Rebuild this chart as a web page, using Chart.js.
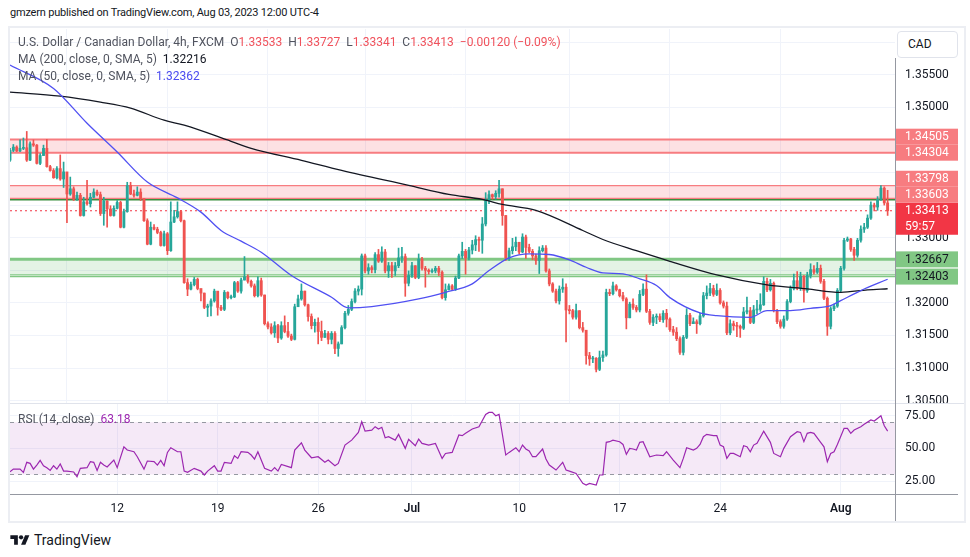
<!DOCTYPE html>
<html>
<head>
<meta charset="utf-8">
<script src="https://cdn.jsdelivr.net/npm/chart.js@4.4.0/dist/chart.umd.min.js"></script>
<style>
  body { margin: 0; background: #fff; font-family: Roboto, "Noto Sans", sans-serif; }
  #wrap { position: relative; width: 970px; height: 557px; overflow: hidden; background: #fff; }
  #head { position: absolute; left: 10px; top: 5px; font-size: 11px; letter-spacing: -0.2px; line-height: 15px; color: #131722; }
  #frame { position: absolute; left: 8px; top: 26px; width: 958px; height: 497px; box-sizing: border-box; border: 2px solid #eceef3; pointer-events: none; }
  canvas { position: absolute; left: 0; }
  #cMain { top: 28px; }
  #cRsi { top: 403px; }
  .leg { position: absolute; left: 18px; font-size: 12px; line-height: 17px; color: #50535e; white-space: pre; }
  .red { color: #f0525c; }
  .blk { color: #131722; }
  .blu { color: #4a4af0; }
  .pur { color: #9c27b0; }
  #cad { position: absolute; left: 897px; top: 31px; width: 61px; height: 27px; box-sizing: border-box; border: 1px solid #e0e3eb; border-radius: 4px; background: #fff; font-size: 12px; line-height: 25px; padding-left: 10px; color: #131722; }
  .ln { position: absolute; }
  #logo { position: absolute; left: 10px; top: 533px; }
  #tv { position: absolute; left: 34px; top: 531px; font-size: 14px; line-height: 18px; color: #131722; }
</style>
</head>
<body>
<div id="wrap">
  <div id="head">gmzern published on TradingView.com, Aug 03, 2023 12:00 UTC-4</div>
  <canvas id="cMain" width="970" height="375"></canvas>
  <canvas id="cRsi" width="970" height="118"></canvas>
  <div class="ln" style="left:10px;top:403px;width:955px;height:1px;background:#e0e3eb"></div>
  <div class="ln" style="left:10px;top:494px;width:948px;height:1px;background:#9598a1"></div>
  <div class="ln" style="left:895px;top:58px;width:1px;height:463px;background:#9598a1"></div>
  <div id="frame"></div>
  <div class="leg" style="top:34px">U.S. Dollar / Canadian Dollar, 4h, FXCM  O<span class="red">1.33533</span>  H<span class="red">1.33727</span>  L<span class="red">1.33341</span>  C<span class="red">1.33413</span>  <span class="red">−0.00120 (−0.09%)</span></div>
  <div class="leg" style="top:51px">MA (200, close, 0, SMA, 5)  <span class="blk">1.32216</span></div>
  <div class="leg" style="top:68px">MA (50, close, 0, SMA, 5)  <span class="blu">1.32362</span></div>
  <div class="leg" style="top:411px">RSI (14, close)  <span class="pur">63.18</span></div>
  <div id="cad">CAD</div>
  <svg id="logo" width="20" height="15" viewBox="0 0 36 28"><path d="M14 22H7V11H0V4h14v18z" fill="#131722"/><circle cx="20" cy="8" r="4" fill="#131722"/><path d="M28 22h-8l7.5-18h8L28 22z" fill="#131722"/></svg>
  <div id="tv">TradingView</div>
</div>
<script>
// time axis: bar index, 6 bars per day, 30 per week
const tickIdx = [32, 62, 92, 120, 152, 182, 212, 248];
const tickLbl = ['12', '19', '26', 'Jul', '10', '17', '24', 'Aug'];

const firstOpen = 1.3419;
const closes = [
  1.3434,1.3439,1.3433,1.3437,1.3438,1.3419,1.3444,1.3442,1.3414,1.3426,
  1.3437,1.3409,1.3403,1.3392,1.3406,1.3390,1.3401,1.3367,1.3375,1.3359,
  1.3365,1.3334,1.3355,1.3352,1.3362,1.3370,1.3366,1.3337,1.3356,1.3344,
  1.3334,1.3345,1.3354,1.3316,1.3340,1.3380,1.3367,1.3365,1.3370,1.3360,
  1.3326,1.3290,1.3316,1.3313,1.3308,1.3288,1.3306,1.3280,1.3324,1.3332,
  1.3340,1.3326,1.3231,1.3221,1.3228,1.3236,1.3222,1.3215,1.3193,1.3195,
  1.3203,1.3218,1.3193,1.3190,1.3216,1.3208,1.3209,1.3231,1.3218,1.3235,
  1.3240,1.3233,1.3226,1.3211,1.3234,1.3212,1.3168,1.3163,1.3154,1.3165,
  1.3146,1.3165,1.3156,1.3149,1.3144,1.3194,1.3206,1.3218,1.3197,1.3179,
  1.3165,1.3170,1.3156,1.3147,1.3153,1.3144,1.3153,1.3130,1.3137,1.3162,
  1.3184,1.3190,1.3202,1.3218,1.3221,1.3272,1.3249,1.3254,1.3251,1.3274,
  1.3264,1.3278,1.3249,1.3257,1.3249,1.3257,1.3269,1.3271,1.3230,1.3242,
  1.3257,1.3239,1.3267,1.3253,1.3250,1.3248,1.3249,1.3253,1.3247,1.3208,
  1.3220,1.3226,1.3221,1.3238,1.3272,1.3279,1.3269,1.3281,1.3289,1.3297,
  1.3296,1.3321,1.3358,1.3366,1.3363,1.3368,1.3375,1.3334,1.3269,1.3280,
  1.3286,1.3293,1.3278,1.3301,1.3285,1.3279,1.3272,1.3265,1.3280,1.3284,
  1.3249,1.3229,1.3218,1.3203,1.3221,1.3224,1.3189,1.3188,1.3178,1.3188,
  1.3162,1.3158,1.3119,1.3114,1.3115,1.3098,1.3116,1.3120,1.3216,1.3214,
  1.3226,1.3220,1.3211,1.3206,1.3177,1.3198,1.3193,1.3189,1.3213,1.3221,
  1.3187,1.3170,1.3178,1.3179,1.3174,1.3184,1.3175,1.3159,1.3155,1.3145,
  1.3124,1.3147,1.3181,1.3168,1.3171,1.3168,1.3180,1.3211,1.3215,1.3222,
  1.3213,1.3219,1.3200,1.3195,1.3154,1.3168,1.3165,1.3164,1.3161,1.3186,
  1.3188,1.3170,1.3189,1.3190,1.3197,1.3233,1.3220,1.3230,1.3188,1.3171,
  1.3164,1.3175,1.3202,1.3222,1.3234,1.3222,1.3241,1.3219,1.3242,1.3251,
  1.3247,1.3253,1.3233,1.3207,1.3164,1.3191,1.3195,1.3219,1.3253,1.3296,
  1.3298,1.3282,1.3273,1.3296,1.3313,1.3316,1.3330,1.3350,1.3347,1.3359,
  1.3376,1.33533,1.33413
];
const highs = [
  1.3437,1.3443,1.3441,1.3450,1.3453,1.3463,1.3447,1.3450,1.3443,1.3429,
  1.3442,1.3451,1.3411,1.3406,1.3409,1.3427,1.3416,1.3396,1.3393,1.3378,
  1.3370,1.3368,1.3362,1.3388,1.3368,1.3375,1.3373,1.3370,1.3362,1.3357,
  1.3349,1.3349,1.3357,1.3356,1.3344,1.3385,1.3385,1.3373,1.3378,1.3375,
  1.3354,1.3329,1.3324,1.3320,1.3316,1.3310,1.3310,1.3308,1.3355,1.3342,
  1.3355,1.3342,1.3327,1.3237,1.3232,1.3239,1.3238,1.3221,1.3215,1.3198,
  1.3206,1.3221,1.3214,1.3196,1.3219,1.3217,1.3212,1.3233,1.3233,1.3238,
  1.3271,1.3243,1.3235,1.3229,1.3240,1.3238,1.3212,1.3171,1.3168,1.3171,
  1.3167,1.3171,1.3180,1.3170,1.3152,1.3198,1.3212,1.3229,1.3218,1.3198,
  1.3183,1.3175,1.3177,1.3172,1.3158,1.3156,1.3156,1.3156,1.3140,1.3165,
  1.3187,1.3196,1.3206,1.3222,1.3226,1.3275,1.3275,1.3260,1.3257,1.3277,
  1.3282,1.3286,1.3282,1.3262,1.3262,1.3262,1.3284,1.3285,1.3275,1.3249,
  1.3262,1.3257,1.3275,1.3270,1.3256,1.3252,1.3252,1.3256,1.3256,1.3249,
  1.3229,1.3229,1.3228,1.3241,1.3275,1.3293,1.3282,1.3285,1.3296,1.3303,
  1.3301,1.3331,1.3369,1.3372,1.3367,1.3372,1.3388,1.3375,1.3334,1.3284,
  1.3299,1.3301,1.3293,1.3306,1.3304,1.3290,1.3282,1.3275,1.3286,1.3288,
  1.3288,1.3252,1.3231,1.3221,1.3226,1.3237,1.3229,1.3196,1.3190,1.3198,
  1.3188,1.3170,1.3158,1.3124,1.3118,1.3116,1.3126,1.3126,1.3221,1.3221,
  1.3232,1.3228,1.3221,1.3216,1.3208,1.3201,1.3206,1.3196,1.3219,1.3229,
  1.3243,1.3190,1.3182,1.3183,1.3183,1.3188,1.3190,1.3177,1.3164,1.3162,
  1.3148,1.3150,1.3191,1.3184,1.3177,1.3174,1.3184,1.3216,1.3226,1.3230,
  1.3227,1.3229,1.3222,1.3203,1.3201,1.3174,1.3172,1.3170,1.3166,1.3193,
  1.3209,1.3193,1.3196,1.3204,1.3214,1.3240,1.3238,1.3236,1.3232,1.3190,
  1.3174,1.3180,1.3205,1.3226,1.3244,1.3248,1.3247,1.3242,1.3247,1.3260,
  1.3257,1.3262,1.3258,1.3236,1.3209,1.3194,1.3198,1.3222,1.3256,1.3299,
  1.3301,1.3299,1.3285,1.3299,1.3318,1.3322,1.3335,1.3355,1.3353,1.3363,
  1.3380,1.3378,1.33727
];
const lows = [
  1.3417,1.3432,1.3432,1.3432,1.3435,1.3417,1.3418,1.3440,1.3413,1.3412,
  1.3426,1.3408,1.3402,1.3391,1.3390,1.3388,1.3377,1.3323,1.3365,1.3357,
  1.3357,1.3333,1.3333,1.3350,1.3347,1.3361,1.3364,1.3334,1.3319,1.3316,
  1.3333,1.3333,1.3344,1.3315,1.3315,1.3339,1.3366,1.3362,1.3364,1.3357,
  1.3325,1.3289,1.3289,1.3312,1.3306,1.3287,1.3287,1.3274,1.3279,1.3323,
  1.3330,1.3324,1.3230,1.3211,1.3220,1.3226,1.3220,1.3203,1.3191,1.3179,
  1.3180,1.3201,1.3181,1.3188,1.3188,1.3206,1.3206,1.3208,1.3216,1.3215,
  1.3235,1.3230,1.3224,1.3209,1.3209,1.3210,1.3166,1.3160,1.3152,1.3147,
  1.3139,1.3144,1.3154,1.3147,1.3142,1.3143,1.3195,1.3204,1.3195,1.3172,
  1.3160,1.3155,1.3137,1.3142,1.3147,1.3137,1.3137,1.3122,1.3118,1.3137,
  1.3160,1.3181,1.3188,1.3200,1.3212,1.3212,1.3246,1.3244,1.3246,1.3246,
  1.3262,1.3262,1.3246,1.3239,1.3239,1.3242,1.3254,1.3262,1.3210,1.3226,
  1.3239,1.3237,1.3237,1.3250,1.3224,1.3244,1.3246,1.3246,1.3242,1.3206,
  1.3204,1.3220,1.3219,1.3219,1.3237,1.3268,1.3244,1.3266,1.3275,1.3280,
  1.3279,1.3276,1.3318,1.3352,1.3359,1.3359,1.3362,1.3319,1.3265,1.3265,
  1.3275,1.3280,1.3275,1.3277,1.3268,1.3277,1.3266,1.3259,1.3245,1.3278,
  1.3247,1.3226,1.3216,1.3200,1.3198,1.3216,1.3140,1.3183,1.3175,1.3175,
  1.3160,1.3155,1.3106,1.3104,1.3108,1.3094,1.3096,1.3110,1.3118,1.3211,
  1.3212,1.3218,1.3209,1.3203,1.3160,1.3177,1.3190,1.3186,1.3186,1.3211,
  1.3185,1.3167,1.3165,1.3168,1.3171,1.3170,1.3163,1.3156,1.3150,1.3142,
  1.3121,1.3120,1.3145,1.3165,1.3168,1.3153,1.3166,1.3178,1.3206,1.3211,
  1.3210,1.3211,1.3198,1.3192,1.3151,1.3151,1.3158,1.3148,1.3147,1.3159,
  1.3183,1.3168,1.3168,1.3183,1.3187,1.3196,1.3217,1.3218,1.3186,1.3168,
  1.3161,1.3161,1.3173,1.3200,1.3220,1.3220,1.3219,1.3201,1.3216,1.3238,
  1.3244,1.3245,1.3230,1.3205,1.3150,1.3160,1.3188,1.3193,1.3216,1.3250,
  1.3294,1.3279,1.3265,1.3270,1.3293,1.3308,1.3314,1.3328,1.3341,1.3342,
  1.3357,1.3350,1.33341
];

// moving averages, read at sample bars
const ma200Idx = [0,15,27,36,46,52,66,72,87,99,119,131,141,147,157,171,177,187,197,211,226,238,248,256,262];
const ma200Val = [1.35233,1.35172,1.35079,1.34987,1.34802,1.34726,1.34479,1.34372,1.34187,1.34033,1.33803,1.33664,1.33587,1.33510,1.33418,1.33110,1.32972,1.32800,1.32638,1.32429,1.32276,1.32214,1.32162,1.32199,1.32216];
const ma50Idx = [0,13,23,32,41,50,57,63,69,75,84,96,101,108,122,130,138,143,149,155,161,167,172,177,183,188,193,197,206,211,221,226,233,239,245,248,254,262];
const ma50Val = [1.35648,1.35290,1.34756,1.34315,1.33854,1.33610,1.33392,1.33111,1.32946,1.32777,1.32419,1.32085,1.31922,1.31942,1.32060,1.32162,1.32291,1.32495,1.32691,1.32752,1.32742,1.32660,1.32546,1.32460,1.32445,1.32368,1.32265,1.32080,1.31845,1.31803,1.31777,1.31880,1.31880,1.31916,1.31957,1.32034,1.32188,1.32362];

// RSI(14)
const rsiIdx = [0,1,3,4,5,6,7,8,9,10,11,12,13,14,15,16,17,19,20,21,23,24,25,26,27,28,29,31,32,34,35,37,38,40,41,43,44,45,46,47,48,50,51,52,53,55,57,58,59,61,62,63,64,66,67,68,69,71,72,73,74,76,78,79,80,81,84,85,87,88,90,92,94,95,97,98,100,102,104,105,106,108,109,110,111,112,113,115,116,118,119,121,122,123,125,127,129,130,132,134,135,136,138,140,142,143,144,145,146,148,149,151,152,153,154,155,156,157,159,160,161,163,165,166,167,169,171,172,173,175,176,177,178,179,180,182,183,184,185,186,187,188,189,191,193,195,196,198,200,201,202,204,205,206,207,208,210,211,212,213,214,215,216,218,219,220,221,222,223,225,227,228,230,231,233,235,236,237,238,239,240,242,243,244,245,246,247,249,250,251,252,254,255,257,258,260,261,262];
const rsiVal = [32.1,34.1,34.1,31.6,39.3,38.5,34.1,37.2,40.8,36.7,35.2,33.1,36.7,34.1,38.0,32.6,32.6,31.9,28.3,34.7,35.2,39.8,39.3,33.1,39.3,37.2,35.7,41.0,35.2,51.2,48.7,47.4,43.6,34.1,40.3,39.8,37.2,40.8,36.7,46.9,50.5,47.4,47.4,32.6,31.6,34.7,32.6,29.6,32.6,36.7,32.6,32.6,39.3,38.5,44.4,42.3,47.4,46.9,44.9,41.8,47.4,34.7,32.6,35.2,32.6,37.7,35.2,48.7,54.3,48.7,42.8,43.6,39.3,41.0,36.7,38.5,52.5,56.3,62.2,70.4,63.2,64.0,66.6,64.8,66.1,58.1,58.9,56.3,60.7,50.0,56.9,52.0,57.1,53.8,52.5,53.8,42.3,46.1,46.9,60.2,59.7,61.5,64.8,66.5,76.0,77.5,77.5,75.0,76.0,44.9,46.9,50.5,47.4,52.5,49.5,48.0,43.6,43.6,49.5,41.8,37.2,33.4,39.3,33.4,32.6,30.8,23.2,21.9,23.2,21.9,29.6,29.6,54.6,55.1,56.3,55.1,53.0,45.4,50.0,49.5,48.7,54.6,55.1,43.6,44.9,44.4,47.4,41.0,35.2,42.3,50.5,48.7,50.0,53.0,58.9,60.7,59.7,59.7,52.5,51.2,42.3,46.1,46.1,43.6,52.0,51.2,47.4,52.5,53.8,63.2,54.6,46.1,43.6,50.0,58.9,62.7,62.2,55.1,61.5,62.2,61.5,54.6,51.2,39.8,46.1,47.4,53.0,65.3,65.3,61.5,64.0,66.6,68.4,71.7,70.9,75.0,67.3,63.18];

// drawn levels
const redZones = [[1.34505, 1.34304], [1.33798, 1.33603]];
const greenZone = [1.32667, 1.32430];
const supportLine = 1.32403;
const darkGreenLine = 1.33580;
const lastPrice = 1.33413;
const priceTicks = [1.305,1.31,1.315,1.32,1.325,1.33,1.335,1.34,1.345,1.35,1.355,1.36];
const rsiTicks = [25, 50, 75];

const UP = '#26a69a', DOWN = '#ef5350';
const opens = closes.map((c, i) => i === 0 ? firstOpen : closes[i - 1]);
const barColors = closes.map((c, i) => c >= opens[i] ? UP : DOWN);

Chart.defaults.font.family = 'Roboto, "Noto Sans", sans-serif';
Chart.defaults.font.size = 12;
Chart.defaults.color = '#131722';
Chart.defaults.animation = false;

const GRID = '#f0f3fa';
const X_MIN = 0, X_MAX = 264.2;

// keep the plot area exactly where the padding puts it
const noPad = s => { s.paddingTop = 0; s.paddingBottom = 0; s.paddingLeft = 0; s.paddingRight = 0; };

const xScale = (showLabels) => ({
  type: 'linear', min: X_MIN, max: X_MAX, offset: false,
  afterBuildTicks: s => { s.ticks = tickIdx.map(v => ({ value: v })); },
  afterFit: s => { s.height = showLabels ? 27 : 0; noPad(s); },
  grid: { color: GRID, drawTicks: false },
  border: { display: false },
  ticks: {
    display: showLabels, autoSkip: false, maxRotation: 0, padding: 8,
    callback: (v, i) => tickLbl[i],
    font: ctx => ({ size: 12, weight: isNaN(+tickLbl[ctx.index]) ? '600' : '400' })
  }
});

// price levels with labels on the axis
const axisLabels = [
  { v: 1.34505, bg: '#f77c80', fg: '#fff' },
  { v: 1.34304, bg: '#f77c80', fg: '#fff' },
  { v: 1.33798, bg: '#f77c80', fg: '#fff' },
  { v: 1.33603, bg: '#f77c80', fg: '#fff' },
  { v: lastPrice, bg: '#f23645', fg: '#fff', sub: '59:57' },
  { v: 1.32667, bg: '#81c784', fg: '#131722' },
  { v: supportLine, bg: '#81c784', fg: '#131722' }
];

const zonePlugin = {
  id: 'zones',
  beforeDatasetsDraw(chart) {
    const { ctx, chartArea: a, scales: { y } } = chart;
    const w = a.right - a.left;
    ctx.save();
    const band = (v1, v2, fill) => {
      const y1 = y.getPixelForValue(v1), y2 = y.getPixelForValue(v2);
      ctx.fillStyle = fill;
      ctx.fillRect(a.left, y1, w, y2 - y1);
    };
    const hline = (v, color, lw, dash) => {
      const py = y.getPixelForValue(v);
      ctx.beginPath();
      ctx.setLineDash(dash || []);
      ctx.strokeStyle = color;
      ctx.lineWidth = lw;
      ctx.moveTo(a.left, py);
      ctx.lineTo(a.right, py);
      ctx.stroke();
    };
    band(redZones[0][0], redZones[0][1], 'rgba(242,54,69,0.15)');
    band(redZones[1][0], redZones[1][1], 'rgba(242,54,69,0.15)');
    band(greenZone[0], greenZone[1], 'rgba(76,175,80,0.15)');
    hline(redZones[0][0], '#f77c80', 2);
    hline(redZones[0][1], '#f77c80', 2);
    hline(redZones[1][0], '#f77c80', 1.2);
    hline(redZones[1][1], '#f77c80', 1.2);
    hline(darkGreenLine, '#388e3c', 1.5);
    hline(greenZone[0], '#81c784', 3);
    hline(greenZone[1], '#81c784', 1.2);
    hline(supportLine, '#81c784', 1.2);
    hline(lastPrice, '#f23645', 1, [2, 3]);
    ctx.restore();
  },
  afterDraw(chart) {
    const { ctx, chartArea: a, scales: { y } } = chart;
    const h = 16, x0 = a.right, bw = 63;
    const items = axisLabels.map(l => {
      const c = y.getPixelForValue(l.v);
      return { ...l, top: c - h / 2, bot: c + h / 2 + (l.sub ? h : 0) };
    }).sort((p, q) => q.top - p.top);
    let limit = Infinity;
    items.forEach(it => {
      if (it.bot > limit) { const d = it.bot - limit; it.top -= d; it.bot -= d; }
      limit = it.top;
    });
    ctx.save();
    ctx.font = '12px Roboto, "Noto Sans", sans-serif';
    ctx.textBaseline = 'middle';
    ctx.textAlign = 'left';
    items.forEach(it => {
      ctx.fillStyle = it.bg;
      ctx.fillRect(x0, it.top, bw, it.bot - it.top);
      ctx.fillStyle = it.fg;
      ctx.fillText(it.v.toFixed(5), x0 + 10, it.top + h / 2 + 0.5);
      if (it.sub) ctx.fillText(it.sub, x0 + 10, it.top + h * 1.5 + 0.5);
    });
    ctx.restore();
  }
};

new Chart(document.getElementById('cMain'), {
  type: 'bar',
  data: {
    datasets: [
      {
        type: 'line', label: 'MA 50', order: 0,
        data: ma50Idx.map((x, k) => ({ x, y: ma50Val[k] })),
        borderColor: '#5050f2', borderWidth: 1.3, pointRadius: 0,
        cubicInterpolationMode: 'monotone'
      },
      {
        type: 'line', label: 'MA 200', order: 1,
        data: ma200Idx.map((x, k) => ({ x, y: ma200Val[k] })),
        borderColor: '#131722', borderWidth: 1.3, pointRadius: 0,
        cubicInterpolationMode: 'monotone'
      },
      {
        label: 'body', order: 2, grouped: false,
        data: closes.map((c, i) => ({ x: i, y: [opens[i], c] })),
        backgroundColor: barColors, barThickness: 2.2, minBarLength: 1,
        borderWidth: 0, borderSkipped: false
      },
      {
        label: 'wick', order: 3, grouped: false,
        data: closes.map((c, i) => ({ x: i, y: [lows[i], highs[i]] })),
        backgroundColor: barColors, barThickness: 1, borderWidth: 0
      }
    ]
  },
  options: {
    responsive: false,
    devicePixelRatio: 1,
    layout: { autoPadding: false, padding: { left: 10, right: 0, top: 1, bottom: 0 } },
    plugins: { legend: { display: false }, tooltip: { enabled: false } },
    scales: {
      x: xScale(false),
      y: {
        position: 'right', min: 1.30463, max: 1.36202,
        afterBuildTicks: s => { s.ticks = priceTicks.map(v => ({ value: v })); },
        afterFit: s => { s.width = 75; noPad(s); },
        grid: { color: GRID, drawTicks: false },
        border: { display: false },
        ticks: {
          padding: 10, color: '#131722',
          callback: v => axisLabels.some(l => Math.abs(l.v - v) < 0.0025) ? '' : v.toFixed(5)
        }
      }
    }
  },
  plugins: [zonePlugin]
});

const rsiPlugin = {
  id: 'rsiBand',
  beforeDatasetsDraw(chart) {
    const { ctx, chartArea: a, scales: { y } } = chart;
    const y70 = y.getPixelForValue(70), y30 = y.getPixelForValue(30);
    ctx.save();
    ctx.fillStyle = 'rgba(156,39,176,0.1)';
    ctx.fillRect(a.left, y70, a.right - a.left, y30 - y70);
    ctx.strokeStyle = '#9598a1';
    ctx.lineWidth = 1;
    ctx.setLineDash([4, 4]);
    [y70, y30].forEach(py => {
      ctx.beginPath();
      ctx.moveTo(a.left, Math.round(py) + 0.5);
      ctx.lineTo(a.right, Math.round(py) + 0.5);
      ctx.stroke();
    });
    ctx.restore();
  }
};

new Chart(document.getElementById('cRsi'), {
  type: 'line',
  data: {
    datasets: [{
      label: 'RSI',
      data: rsiIdx.map((x, k) => ({ x, y: rsiVal[k] })),
      borderColor: '#9c27b0', borderWidth: 1.2, pointRadius: 0, tension: 0
    }]
  },
  options: {
    responsive: false,
    devicePixelRatio: 1,
    layout: { autoPadding: false, padding: { left: 10, right: 0, top: 0, bottom: 0 } },
    plugins: { legend: { display: false }, tooltip: { enabled: false } },
    scales: {
      x: xScale(true),
      y: {
        position: 'right', min: 15.05, max: 84.72,
        afterBuildTicks: s => { s.ticks = rsiTicks.map(v => ({ value: v })); },
        afterFit: s => { s.width = 75; noPad(s); },
        grid: { color: GRID, drawTicks: false },
        border: { display: false },
        ticks: { padding: 10, color: '#131722', callback: v => v.toFixed(2) }
      }
    }
  },
  plugins: [rsiPlugin]
});
</script>
</body>
</html>
